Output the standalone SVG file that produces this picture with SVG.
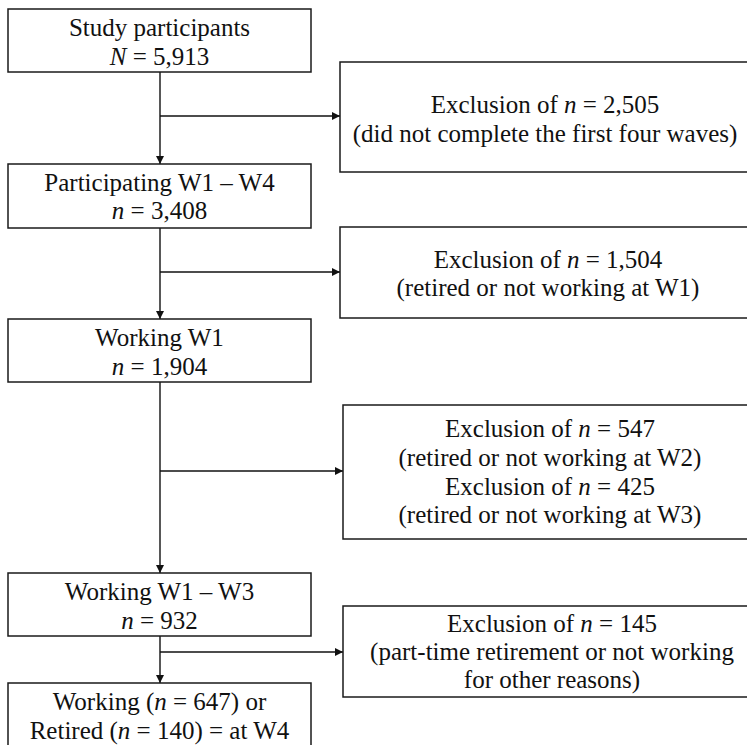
<svg xmlns="http://www.w3.org/2000/svg" width="747" height="745" viewBox="0 0 747 745">
<style>
.box{fill:#fff;stroke:#1a1a1a;stroke-width:1.5}
.t{font-family:"Liberation Serif","Times New Roman",serif;font-size:25px;fill:#111;text-anchor:middle}
.i{font-style:italic}
.c{stroke:#111;stroke-width:1.4;fill:none}
</style>
<defs>
<marker id="ah" viewBox="0 0 10 10" refX="10" refY="5" markerWidth="10" markerHeight="8" markerUnits="userSpaceOnUse" orient="auto">
<path d="M0,0 L10,5 L0,10 z" fill="#111"/>
</marker>
</defs>
<rect width="747" height="745" fill="#fff"/>
<g id="connectors">
<path class="c" d="M160,72 V164" marker-end="url(#ah)"/>
<path class="c" d="M160,116 H340" marker-end="url(#ah)"/>
<path class="c" d="M160,228 V319" marker-end="url(#ah)"/>
<path class="c" d="M160,272 H340" marker-end="url(#ah)"/>
<path class="c" d="M160,382 V573" marker-end="url(#ah)"/>
<path class="c" d="M160,471 H343" marker-end="url(#ah)"/>
<path class="c" d="M160,636 V683" stroke="#555" stroke-width="1" marker-end="url(#ah)"/>
<path class="c" d="M160,652 H343" marker-end="url(#ah)"/>
</g>
<g id="study">
<rect class="box" x="8" y="9" width="303" height="63"/>
<text class="t" x="159.5" y="36">Study participants</text>
<text class="t" x="159.5" y="65"><tspan class="i">N</tspan> = 5,913</text>
</g>
<g id="excl1">
<rect class="box" x="340" y="62" width="420" height="110"/>
<text class="t" x="545" y="113">Exclusion of <tspan class="i">n</tspan> = 2,505</text>
<text class="t" x="545" y="142">(did not complete the first four waves)</text>
</g>
<g id="participating">
<rect class="box" x="8" y="164" width="303" height="64"/>
<text class="t" x="159.5" y="191">Participating W1 – W4</text>
<text class="t" x="159.5" y="219"><tspan class="i">n</tspan> = 3,408</text>
</g>
<g id="excl2">
<rect class="box" x="340" y="227" width="420" height="91"/>
<text class="t" x="548" y="268">Exclusion of <tspan class="i">n</tspan> = 1,504</text>
<text class="t" x="548" y="296">(retired or not working at W1)</text>
</g>
<g id="workingW1">
<rect class="box" x="8" y="319" width="303" height="63"/>
<text class="t" x="159.5" y="346">Working W1</text>
<text class="t" x="159.5" y="375"><tspan class="i">n</tspan> = 1,904</text>
</g>
<g id="excl3">
<rect class="box" x="343" y="405" width="420" height="134"/>
<text class="t" x="550" y="437">Exclusion of <tspan class="i">n</tspan> = 547</text>
<text class="t" x="550" y="466">(retired or not working at W2)</text>
<text class="t" x="550" y="495">Exclusion of <tspan class="i">n</tspan> = 425</text>
<text class="t" x="550" y="523">(retired or not working at W3)</text>
</g>
<g id="workingW1W3">
<rect class="box" x="8" y="573" width="303" height="63"/>
<text class="t" x="159.5" y="600">Working W1 – W3</text>
<text class="t" x="159.5" y="629"><tspan class="i">n</tspan> = 932</text>
</g>
<g id="excl4">
<rect class="box" x="343" y="606" width="420" height="91"/>
<text class="t" x="552" y="632">Exclusion of <tspan class="i">n</tspan> = 145</text>
<text class="t" x="552" y="660">(part-time retirement or not working</text>
<text class="t" x="552" y="688">for other reasons)</text>
</g>
<g id="final">
<rect class="box" x="8" y="683" width="303" height="80"/>
<text class="t" x="159.5" y="710">Working (<tspan class="i">n</tspan> = 647) or</text>
<text class="t" x="159.5" y="739">Retired (<tspan class="i">n</tspan> = 140) = at W4</text>
</g>
</svg>
